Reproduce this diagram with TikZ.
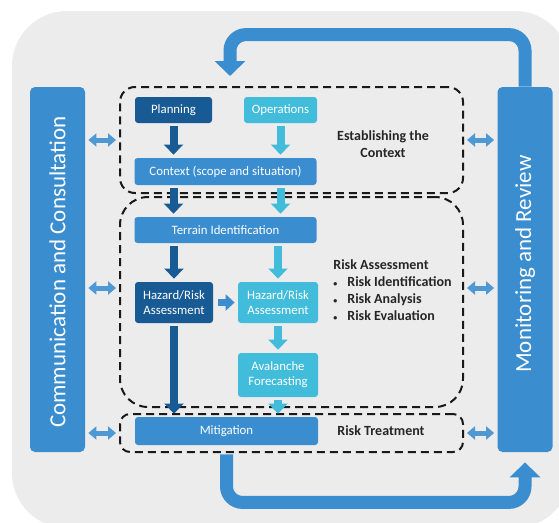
\documentclass[tikz,border=0pt]{standalone}
\usepackage{fontspec}
\setmainfont{Carlito}
\usetikzlibrary{arrows.meta,calc}

\definecolor{bgray}{HTML}{ECECEC}
\definecolor{midblue}{HTML}{3A8DCF}
\definecolor{darkblue}{HTML}{175A94}
\definecolor{cyanblue}{HTML}{42BCDB}
\definecolor{txtgray}{HTML}{262626}

\newcommand{\smallbul}{{\fontsize{8}{8}\selectfont\textbullet}\hspace{10pt}}

\tikzset{
  procbox/.style={rounded corners=3pt, text=white, align=center, inner sep=0pt,
    font=\fontsize{12.8}{15}\selectfont},
  sidebar/.style={fill=midblue, rounded corners=5pt, minimum width=55pt, minimum height=365pt},
  bartext/.style={text=white, rotate=90, inner sep=0pt, font=\fontsize{23}{26}\selectfont},
  grpbox/.style={draw=black!90, line width=2pt, dash pattern=on 8pt off 5pt, minimum width=343pt},
  note/.style={text=txtgray, inner sep=0pt, font=\bfseries\fontsize{14}{17}\selectfont},
  blkarr/.style={line width=8pt, -{Triangle[width=19pt,length=10pt]}, shorten <=3pt, shorten >=3pt},
  dblarr/.style={midblue!90!white, line width=5pt, {Triangle[width=13pt,length=8pt]}-{Triangle[width=13pt,length=8pt]},
    shorten <=3pt, shorten >=3pt},
  looparr/.style={midblue, line width=13pt, -{Triangle[width=30pt,length=15pt]}, rounded corners=16pt}
}

\begin{document}
\begin{tikzpicture}[x=1pt, y=-1pt, thick]
  \useasboundingbox (0,0) rectangle (559,522);
  \fill[bgray, rounded corners=55pt] (12,11) rectangle (570,528);

  \node[sidebar] (comm) at (57.5,269.5) {};
  \node[sidebar] (mon) at (525,269.5) {};
  \node[bartext] (commtext) at (57.5,272) {Communication and Consultation};
  \node[bartext] (montext) at (525,264) {Monitoring and Review};

  \node[grpbox, minimum height=106pt, rounded corners=15pt] (estab) at (291.5,140) {};
  \node[grpbox, minimum height=210pt, rounded corners=28pt] (assess) at (291.5,302) {};
  \node[grpbox, minimum height=38pt, rounded corners=10pt] (treat) at (291.5,433) {};

  \node[procbox, fill=darkblue, minimum width=77pt, minimum height=26pt] (plan) at (173.5,110) {Planning};
  \node[procbox, fill=cyanblue, minimum width=73pt, minimum height=26pt] (ops) at (280.5,110) {Operations};
  \node[procbox, fill=midblue, minimum width=182pt, minimum height=27pt] (ctx) at (225.5,171.5) {Context (scope and situation)};
  \node[procbox, fill=midblue, minimum width=182pt, minimum height=26pt] (terr) at (225.5,230) {Terrain Identification};
  \node[procbox, fill=darkblue, minimum width=78pt, minimum height=41pt] (hzdA) at (174,302.5) {Hazard/Risk\\Assessment};
  \node[procbox, fill=cyanblue, minimum width=80pt, minimum height=41pt] (hzdB) at (278,302.5) {Hazard/Risk\\Assessment};
  \node[procbox, fill=cyanblue, minimum width=80pt, minimum height=44pt] (aval) at (278,375) {Avalanche\\Forecasting};
  \node[procbox, fill=midblue, minimum width=183pt, minimum height=28pt] (mitig) at (226.5,431) {Mitigation};

  \draw[blkarr, darkblue] (plan.south) -- (plan.south |- ctx.north);
  \draw[blkarr, cyanblue] (ops.south) -- (ops.south |- ctx.north);
  \draw[blkarr, darkblue] (ctx.south -| plan) -- (terr.north -| plan);
  \draw[blkarr, cyanblue] (ctx.south -| ops) -- (terr.north -| ops);
  \draw[blkarr, darkblue] (terr.south -| hzdA) -- (hzdA.north);
  \draw[blkarr, cyanblue] (terr.south -| hzdB) -- (hzdB.north);
  \draw[blkarr, midblue, line width=7pt, -{Triangle[width=16pt,length=9pt]}, shorten <=5pt] (hzdA.east) -- (hzdB.west);
  \draw[blkarr, cyanblue] (hzdB.south) -- (aval.north);
  \draw[blkarr, darkblue] (hzdA.south) -- (hzdA.south |- mitig.north);
  \draw[blkarr, cyanblue] (aval.south) -- (aval.south |- mitig.north);

  \coordinate (toptip) at (230,76);
  \draw[looparr] (mon.north) -- ++(0,-52) -| (toptip);
  \draw[looparr, shorten <=9pt, shorten >=10pt] (mitig.south) -- ++(0,57) -| (mon.south);

  \coordinate (assessL) at ($(assess.west)+(0,-14)$);
  \coordinate (assessR) at ($(assess.east)+(0,-14)$);
  \draw[dblarr] (comm.east |- estab.west) -- (estab.west);
  \draw[dblarr] (comm.east |- assessL) -- (assessL);
  \draw[dblarr] (comm.east |- treat.west) -- (treat.west);
  \draw[dblarr] (estab.east) -- (mon.west |- estab.east);
  \draw[dblarr] (assessR) -- (mon.west |- assessR);
  \draw[dblarr] (treat.east) -- (mon.west |- treat.east);

  \node[note, align=center] (estabtext) at (383,144) {Establishing the\\Context};
  \node[note, align=left, anchor=north west] (assesstext) at (333,259)
    {Risk Assessment\\ \smallbul Risk Identification\\ \smallbul Risk Analysis\\ \smallbul Risk Evaluation};
  \node[note] (treattext) at (381,431) {Risk Treatment};
\end{tikzpicture}
\end{document}
